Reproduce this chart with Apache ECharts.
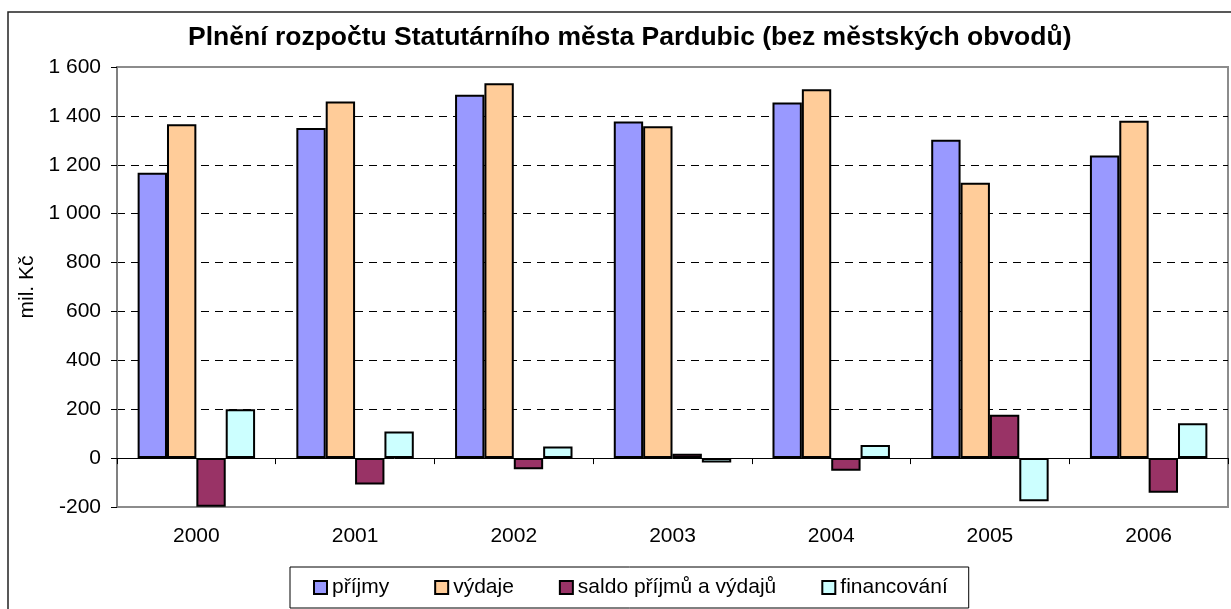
<!DOCTYPE html>
<html>
<head>
<meta charset="utf-8">
<script src="https://cdn.jsdelivr.net/npm/echarts@6/dist/echarts.min.js"></script>
<style>
  html, body { margin: 0; padding: 0; background: #fff; }
  #chart { width: 1231px; height: 609px; }
</style>
</head>
<body>
<div id="chart"></div>
<script>
const roky = ["2000", "2001", "2002", "2003", "2004", "2005", "2006"];
const prijmy = [1167, 1350, 1486, 1377, 1455, 1302, 1238];
const vydaje = [1366, 1459, 1534, 1358, 1509, 1126, 1380];
const saldo = [-199, -108, -46, 18, -52, 177, -142];
const financovani = [200, 109, 48, -18, 54, -176, 143];

const nazvy = ["příjmy", "výdaje", "saldo příjmů a výdajů", "financování"];
const barvy = ["#9999FF", "#FFCC99", "#993366", "#CCFFFF"];

const font = "'Liberation Sans', Arial, sans-serif";

const chart = echarts.init(document.getElementById("chart"));

function formatCislo(v) {
  const s = String(Math.abs(v)).replace(/\B(?=(\d{3})+(?!\d))/g, " ");
  return v < 0 ? "-" + s : s;
}

function bar(idx, data) {
  return {
    name: nazvy[idx],
    type: "bar",
    data: data,
    xAxisIndex: 0,
    barGap: "0%",
    barCategoryGap: "26%",
    itemStyle: {
      color: barvy[idx],
      borderColor: "#000",
      borderWidth: 2
    }
  };
}

chart.setOption({
  animation: false,
  textStyle: { fontFamily: font },
  graphic: [
    {
      type: "rect",
      shape: { x: 8, y: 12, width: 1260, height: 640 },
      style: { fill: null, stroke: "#222", lineWidth: 1.5 },
      silent: true
    }
  ],
  title: {
    text: "Plnění rozpočtu Statutárního města Pardubic (bez městských obvodů)",
    left: 183,
    top: 19,
    textStyle: { fontFamily: font, fontSize: 26.5, fontWeight: "bold", color: "#000" }
  },
  legend: {
    data: nazvy,
    left: 290,
    top: 567,
    padding: [10, 21, 10, 23],
    itemGap: 45,
    itemWidth: 13,
    itemHeight: 13,
    icon: "rect",
    borderColor: "#000",
    borderWidth: 1,
    textStyle: { fontFamily: font, fontSize: 21, color: "#000", padding: [0, 0, 0, 0] }
  },
  grid: {
    left: 117,
    right: 3,
    top: 67,
    bottom: 102,
    show: true,
    borderColor: "#8c8c8c",
    borderWidth: 2,
    backgroundColor: "#fff"
  },
  xAxis: [
    {
      type: "category",
      data: roky,
      position: "bottom",
      axisLine: { show: false, onZero: false },
      axisTick: { show: false },
      axisLabel: { color: "#000", fontSize: 21, fontFamily: font, margin: 19 },
      splitLine: { show: false }
    },
    {
      type: "category",
      data: roky,
      position: "bottom",
      axisLine: { show: true, onZero: true, lineStyle: { color: "#000", width: 1 } },
      axisTick: { show: true, length: 6, lineStyle: { color: "#000" } },
      axisLabel: { show: false },
      splitLine: { show: false }
    }
  ],
  yAxis: {
    type: "value",
    min: -200,
    max: 1600,
    interval: 200,
    name: "mil. Kč",
    nameLocation: "middle",
    nameGap: 77,
    nameTextStyle: { fontFamily: font, fontSize: 21, color: "#000" },
    axisLine: { show: true, lineStyle: { color: "#808080", width: 2 } },
    axisTick: { show: true, length: 6, lineStyle: { color: "#000" } },
    axisLabel: {
      color: "#000",
      fontSize: 21,
      fontFamily: font,
      margin: 16,
      formatter: formatCislo
    },
    splitLine: {
      show: true,
      showMinLine: false,
      showMaxLine: false,
      lineStyle: { color: "#000", type: [8, 6], width: 1 }
    }
  },
  series: [
    bar(0, prijmy),
    bar(1, vydaje),
    bar(2, saldo),
    bar(3, financovani)
  ]
});

window.addEventListener("resize", () => chart.resize());
</script>
</body>
</html>
